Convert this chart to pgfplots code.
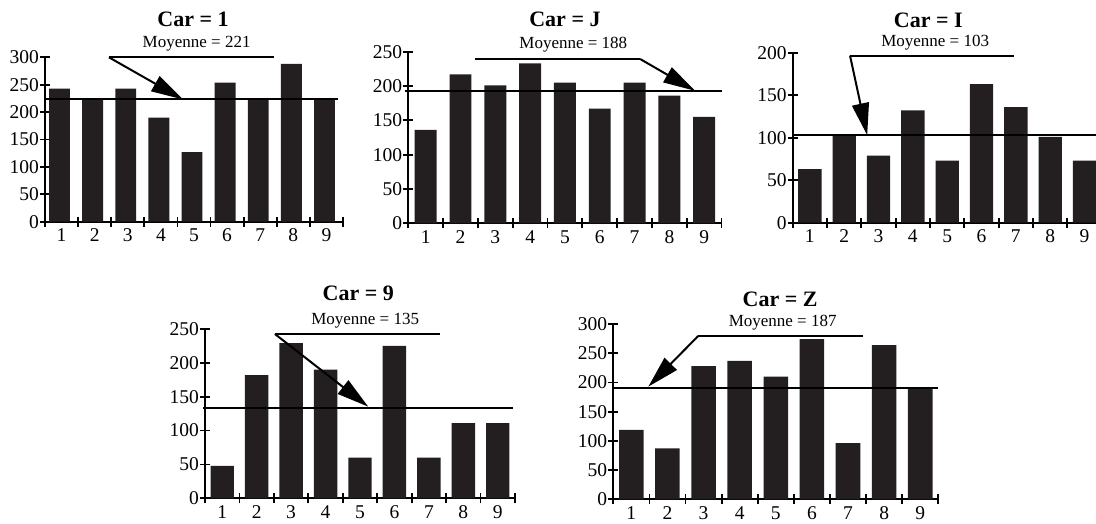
\documentclass[border=0pt]{standalone}
\usepackage{pgfplots}
\pgfplotsset{compat=1.18}
\usepackage{fontspec}
\setmainfont{Liberation Serif}
\usetikzlibrary{arrows.meta}
\definecolor{barc}{RGB}{35,31,32}
\pgfplotsset{
  panel/.style={
    scale only axis, clip=false, anchor=south west,
    xmin=0.5, xmax=9.5, ymin=0,
    axis x line=bottom, axis y line=left,
    axis line style={-, line width=2pt, black},
    tick style={line width=1.8pt, black},
    tick align=center, major tick length=10pt, minor tick length=10pt,
    xtick={1,2,...,9},
    minor xtick={0.5,1.5,...,9.5},
    major x tick style={draw=none},
    ticklabel style={font=\fontsize{19.5}{19.5}\selectfont},
    yticklabel style={inner sep=1pt},
    xticklabel style={inner sep=2pt},
    /pgf/number format/assume math mode=true,
    enlargelimits=false,
  },
}
\tikzset{
  meanline/.style={line width=2pt, black},
  ann/.style={line width=2pt, black},
  arr/.style={line width=2pt, black, -{Triangle[length=32pt,width=17pt]}},
}
\newcommand{\ttl}[1]{\fontsize{22}{22}\selectfont\bfseries #1}
\newcommand{\moy}[1]{\fontsize{17}{17}\selectfont #1}
\begin{document}
\begin{tikzpicture}
\useasboundingbox (0pt,0pt) rectangle (1096pt,523pt);
% Car = 1
\begin{axis}[panel, at={(45pt,301.3pt)}, width=298pt, height=164.4pt, ymax=300,
  ytick={0,50,...,300}]
\addplot[ybar, bar width=0.63, bar shift=-0.06, fill=barc, draw=none] coordinates {
(1,243) (2,222) (3,243) (4,190) (5,127) (6,254) (7,222) (8,288) (9,222)};
\addplot[meanline] coordinates {(0.5,223) (9.35,223)};
\draw[ann] (axis cs:2.43,300) -- (axis cs:7.41,300);
\draw[arr] (axis cs:2.43,300) -- (axis cs:4.67,223);
\node at (axis cs:5.08,325.5) {\moy{Moyenne = 221}};
\node at (axis cs:4.97,369) {\ttl{Car = 1}};
\end{axis}
% Car = J
\begin{axis}[panel, at={(408.3pt,299.7pt)}, width=313.3pt, height=171.6pt, ymax=250,
  ytick={0,50,...,250}]
\addplot[ybar, bar width=0.63, fill=barc, draw=none] coordinates {
(1,136) (2,217) (3,201) (4,233) (5,205) (6,167) (7,205) (8,186) (9,155)};
\addplot[meanline] coordinates {(0.4,193) (9.5,193)};
\draw[ann] (axis cs:2.42,239.4) -- (axis cs:7.16,239.4);
\draw[arr] (axis cs:7.16,239.4) -- (axis cs:8.74,193);
\node at (axis cs:5.24,259.8) {\moy{Moyenne = 188}};
\node at (axis cs:5.0,297) {\ttl{Car = J}};
\end{axis}
% Car = I
\begin{axis}[panel, at={(792.7pt,300.3pt)}, width=309pt, height=170pt, ymax=200,
  ytick={0,50,...,200}]
\addplot[ybar, bar width=0.68, fill=barc, draw=none] coordinates {
(1,63) (2,103) (3,79) (4,132) (5,73) (6,163) (7,136) (8,101) (9,73)};
\addplot[meanline] coordinates {(0.5,103) (9.5,103)};
\draw[ann] (axis cs:2.17,196.5) -- (axis cs:6.95,196.5);
\draw[arr] (axis cs:2.17,196.5) -- (axis cs:2.67,103);
\node at (axis cs:4.65,211.8) {\moy{Moyenne = 103}};
\node at (axis cs:4.45,237.6) {\ttl{Car = I}};
\end{axis}
% Car = 9
\begin{axis}[panel, at={(205pt,24.7pt)}, width=310pt, height=169.3pt, ymax=250,
  ytick={0,50,...,250}]
\addplot[ybar, bar width=0.68, fill=barc, draw=none] coordinates {
(1,48) (2,182) (3,229) (4,190) (5,60) (6,225) (7,60) (8,111) (9,111)};
\addplot[meanline] coordinates {(0.45,133) (9.45,133)};
\draw[ann] (axis cs:2.53,242.6) -- (axis cs:7.31,242.6);
\draw[arr] (axis cs:2.53,242.6) -- (axis cs:5.24,135.3);
\node at (axis cs:5.15,262) {\moy{Moyenne = 135}};
\node at (axis cs:4.95,302.8) {\ttl{Car = 9}};
\end{axis}
% Car = Z
\begin{axis}[panel, at={(613.3pt,23.7pt)}, width=325pt, height=175.3pt, ymax=300,
  ytick={0,50,...,300}]
\addplot[ybar, bar width=0.68, fill=barc, draw=none] coordinates {
(1,119) (2,87) (3,228) (4,237) (5,210) (6,274) (7,96) (8,264) (9,191)};
\addplot[meanline] coordinates {(0.5,190) (9.5,190)};
\draw[ann] (axis cs:2.85,279.5) -- (axis cs:7.41,279.5);
\draw[arr] (axis cs:2.85,279.5) -- (axis cs:1.47,192.8);
\node at (axis cs:5.19,302) {\moy{Moyenne = 187}};
\node at (axis cs:5.12,342) {\ttl{Car = Z}};
\end{axis}
\end{tikzpicture}
\end{document}
